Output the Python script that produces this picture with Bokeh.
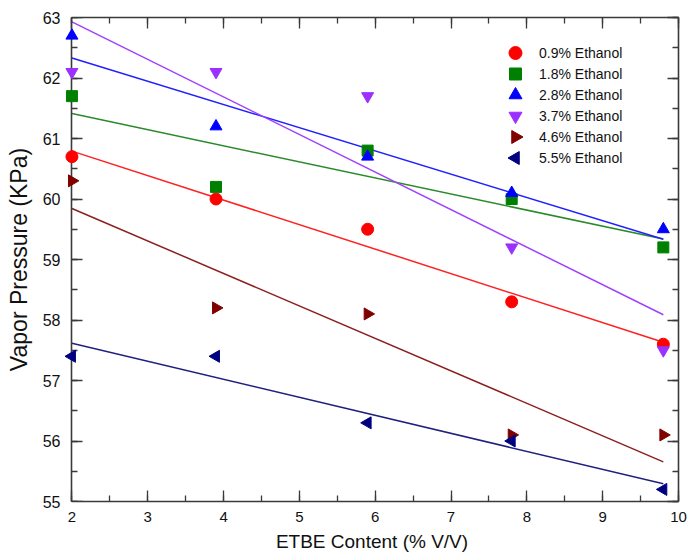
import numpy as np
from bokeh.plotting import figure
from bokeh.models import LinearAxis, Legend, LegendItem, Range1d, CustomJSTickFormatter
from bokeh.embed import file_html
from bokeh.resources import INLINE

etbe = [2.0, 3.9, 5.9, 7.8, 9.8]
labels = ["0.9% Ethanol", "1.8% Ethanol", "2.8% Ethanol",
          "3.7% Ethanol", "4.6% Ethanol", "5.5% Ethanol"]
vp_09 = [60.7, 60.0, 59.5, 58.3, 57.6]
vp_18 = [61.7, 60.2, 60.8, 60.0, 59.2]
vp_28 = [62.7, 61.2, 60.7, 60.1, 59.5]
vp_37 = [62.1, 62.1, 61.7, 59.2, 57.5]
vp_46 = [60.3, 58.2, 58.1, 56.1, 56.1]
vp_55 = [57.4, 57.4, 56.3, 56.0, 55.2]
series = [vp_09, vp_18, vp_28, vp_37, vp_46, vp_55]

marker_colors = ["#ff0000", "#008000", "#0000ff", "#9b30ff", "#800000", "#000080"]
line_colors = ["#ff2020", "#2a8a2a", "#2020ff", "#a040ff", "#8b2020", "#20207f"]
markers = ["circle", "square", "triangle", "inverted_triangle", "triangle", "triangle"]
angles = [0, 0, 0, 0, -np.pi / 2, np.pi / 2]
sizes = [12, 11, 12, 12, 12, 12]

FONT = "Liberation Sans"
AX = "#3a3a3a"
X0, X1, Y0, Y1 = 2, 10, 55, 63
XS = X0 - 0.085                      # small pad so markers at x=2 are not clipped
W, H = 689, 559
BL, BR, BT, BB = 65, 11, 17, 58      # borders
FL, FR, FT, FB = BL, W - BR, BT, H - BB

p = figure(width=W, height=H, output_backend="svg", toolbar_location=None,
           x_range=Range1d(XS, X1), y_range=Range1d(Y0, Y1),
           min_border_left=BL, min_border_right=BR, min_border_top=BT, min_border_bottom=BB)
p.outline_line_color = None
p.grid.grid_line_color = None
p.background_fill_color = "white"
p.border_fill_color = "white"

# legend geometry (screen px)
LX, LY = 440, 333
GW, PITCH = 20, 21
N = len(labels)
LEG_H = N * PITCH
leg_top = FB - LY - LEG_H
leg_cx = FL + LX + GW / 2
px_x = (FR - FL) / (X1 - XS)
px_y = (FB - FT) / (Y1 - Y0)

items = []
for i, (ys, lab, mc, lc, mk, ang, sz) in enumerate(zip(series, labels, marker_colors, line_colors,
                                                        markers, angles, sizes)):
    k, b = np.polyfit(etbe, ys, 1)
    xs = np.array([etbe[0], etbe[-1]])
    p.line(xs, k * xs + b, line_color=lc, line_width=1.5)
    r = p.scatter(etbe, ys, marker=mk, size=sz, angle=ang, fill_color=mc, line_color=mc,
                  level="overlay")
    if ang == 0:
        items.append(LegendItem(label=lab, renderers=[r]))
    else:
        # Bokeh legends ignore marker angle: legend item gets an invisible swatch
        dummy = p.scatter(x=[], y=[], marker="triangle", fill_alpha=0, line_alpha=0)
        items.append(LegendItem(label=lab, renderers=[dummy]))
    # full-size legend swatch drawn at the legend row position
    cy = leg_top + PITCH / 2 + i * PITCH
    p.scatter(x=[XS + (leg_cx - FL) / px_x], y=[Y0 + (FB - cy) / px_y],
              marker=mk, size=sz + 1, angle=ang, fill_color=mc, line_color=mc, level="overlay")

def style(ax, fs="15px", standoff=10, ticks=True, line=True, labels_on=True):
    ax.axis_line_color = AX if line else None
    ax.axis_line_width = 1.6
    ax.major_tick_line_color = AX if ticks else None
    ax.minor_tick_line_color = AX if ticks else None
    ax.major_tick_line_width = 1.3
    ax.minor_tick_line_width = 1.3
    ax.major_tick_in = 11 if ticks else 0
    ax.major_tick_out = 0
    ax.minor_tick_in = 6 if ticks else 0
    ax.minor_tick_out = 0
    ax.ticker.num_minor_ticks = 2
    ax.ticker.desired_num_ticks = 9
    ax.major_label_text_font = FONT
    ax.major_label_text_color = "#111111"
    ax.major_label_text_font_size = fs
    ax.major_label_standoff = standoff
    if not labels_on:
        ax.formatter = CustomJSTickFormatter(code="return ''")

bx = p.xaxis[0]
ly = p.yaxis[0]
style(bx, "15px", 10)
bx.bounds = (X0, X1)
# left labels axis (at frame edge), line + ticks drawn by a second axis fixed at x=2
style(ly, "16px", 5, ticks=False, line=False)
ly.bounds = (Y0, Y1)
bx.axis_label = "ETBE Content (% V/V)"
ly.axis_label = "Vapor Pressure (KPa)"
for ax, fs in ((bx, "19px"), (ly, "23px")):
    ax.axis_label_text_font = FONT
    ax.axis_label_text_font_style = "normal"
    ax.axis_label_text_font_size = fs
    ax.axis_label_text_color = "#111111"
bx.axis_label_standoff = 6
ly.axis_label_standoff = 8

la = LinearAxis(fixed_location=X0)
style(la, "16px", 0, labels_on=False)
p.add_layout(la, "left")

ta = LinearAxis()
ra = LinearAxis()
style(ta, standoff=0, labels_on=False)
style(ra, standoff=0, labels_on=False)
ta.bounds = (X0, X1)
p.add_layout(ta, "above")
p.add_layout(ra, "right")

legend = Legend(items=items, location=(LX, LY), orientation="vertical")
legend.border_line_color = None
legend.background_fill_alpha = 0
legend.padding = 0
legend.margin = 0
legend.spacing = 0
legend.glyph_height = PITCH
legend.glyph_width = GW
legend.label_height = PITCH
legend.label_standoff = 14
legend.label_text_font = FONT
legend.label_text_font_size = "14px"
legend.label_text_color = "#111111"
p.add_layout(legend)

open("out.html", "w").write(file_html(p, INLINE))
